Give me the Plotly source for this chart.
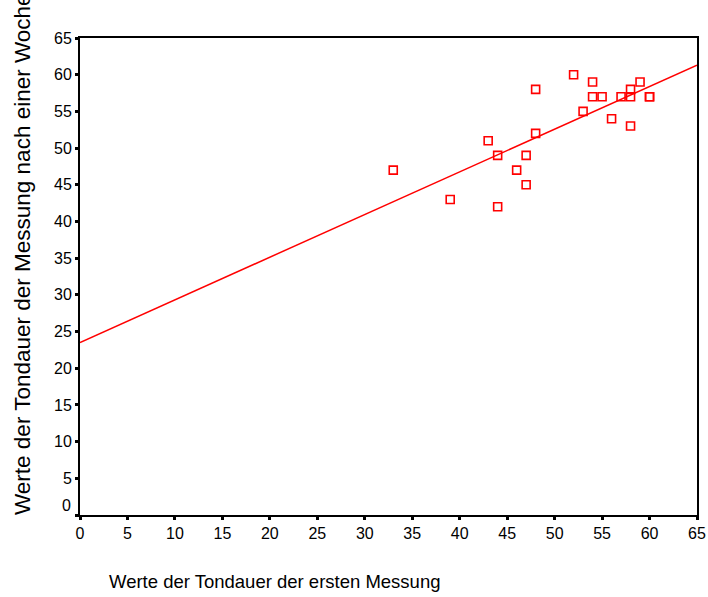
import plotly.graph_objects as go

# Data
first_measure = [33, 39, 43, 44, 44, 46, 47, 47, 48, 48, 52, 53, 54, 54, 55, 56, 57, 58, 58, 58, 59, 60, 60]
week_measure = [47, 43, 51, 49, 42, 47, 49, 45, 58, 52, 60, 55, 59, 57, 57, 54, 57, 58, 57, 53, 59, 57, 57]

fit_x = [0, 65]
fit_y = [23.5, 61.3]

tick_vals = [0, 5, 10, 15, 20, 25, 30, 35, 40, 45, 50, 55, 60, 65]
x_tick_text = [str(v) for v in tick_vals]
y_tick_text = [""] + [str(v) for v in tick_vals[1:]]

x_title = "Werte der Tondauer der ersten Messung"
y_title = "Werte der Tondauer der Messung nach einer Woche"

FONT = "Arial, Liberation Sans, sans-serif"

fig = go.Figure()
fig.add_trace(go.Scatter(
    x=fit_x, y=fit_y, mode="lines",
    line=dict(color="#ff0000", width=1.5),
    showlegend=False, hoverinfo="skip",
))
fig.add_trace(go.Scatter(
    x=first_measure, y=week_measure, mode="markers",
    marker=dict(symbol="square-open", size=8, color="#ff0000",
                line=dict(color="#ff0000", width=1.6)),
    showlegend=False,
))

axis_common = dict(
    range=[0, 65], tickvals=tick_vals, automargin=False,
    showgrid=False, zeroline=False,
    showline=True, linecolor="black", linewidth=2, mirror=True,
    ticks="outside", ticklen=3, tickwidth=3, tickcolor="black",
    tickfont=dict(family=FONT, size=16, color="black"),
)

fig.update_xaxes(**axis_common, ticktext=x_tick_text)
fig.update_yaxes(**axis_common, ticktext=y_tick_text)

fig.add_annotation(
    text="0", xref="paper", yref="y", x=0, y=1.3, xanchor="right", yanchor="middle",
    xshift=-7, showarrow=False, font=dict(family=FONT, size=16, color="black"),
)
fig.add_annotation(
    text=x_title, xref="paper", yref="paper", x=(107 - 80) / 617, y=(515 - 581) / 477,
    xanchor="left", yanchor="middle", showarrow=False,
    font=dict(family=FONT, size=18.5, color="black"),
)
fig.add_annotation(
    text=y_title, xref="paper", yref="paper", x=(22 - 80) / 617, y=(515 - 517) / 477,
    xanchor="center", yanchor="bottom", textangle=-90, showarrow=False,
    font=dict(family=FONT, size=22.5, color="black"),
)

fig.update_layout(
    width=708, height=597,
    margin=dict(l=80, r=11, t=38, b=82),
    paper_bgcolor="white", plot_bgcolor="white",
)

fig.write_html(
    "out.html",
    config={"displayModeBar": False},
    post_script="document.body.style.margin='0';document.body.style.overflow='hidden';",
)
